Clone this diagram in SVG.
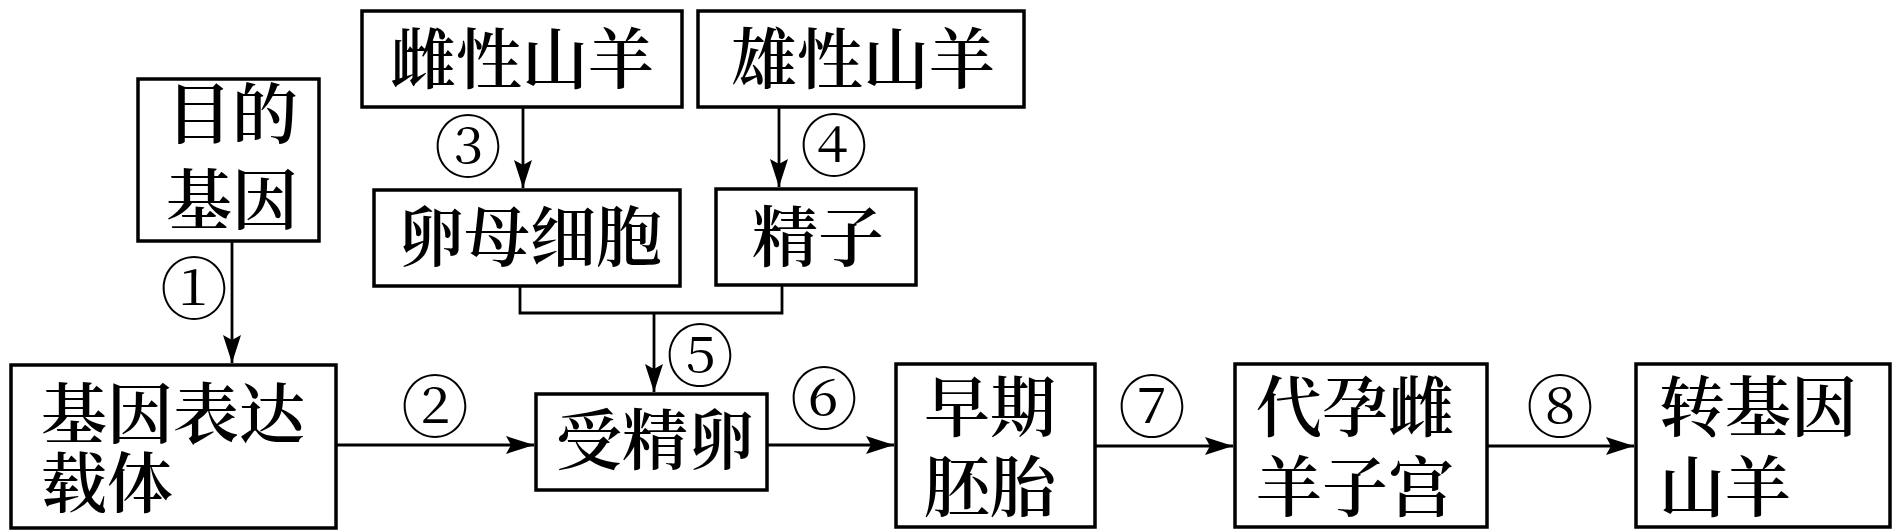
<svg xmlns="http://www.w3.org/2000/svg" width="1895" height="532" viewBox="0 0 1895 532">
<style>
.box{fill:#fff;stroke:#000;stroke-width:3.5}
.t{font-family:"Noto Serif CJK SC","Noto Sans CJK SC",serif;font-size:66px;font-weight:600;fill:#000}
.n{font-family:"Noto Serif CJK SC","Noto Sans CJK SC",serif;font-size:68px;fill:#000;text-anchor:middle}
.ln{fill:none;stroke:#000;stroke-width:2.8}
</style>
<defs>
<marker id="ah" viewBox="0 0 28 18" refX="28" refY="9" markerWidth="28" markerHeight="18" markerUnits="userSpaceOnUse" orient="auto">
<path d="M0,0 L28,9 L0,18 L5,9 z" fill="#000"/>
</marker>
</defs>
<rect width="1895" height="532" fill="#fff"/>
<g id="connectors">
<line class="ln" x1="232" y1="241" x2="232" y2="363" marker-end="url(#ah)"/>
<line class="ln" x1="336" y1="445" x2="534" y2="445" marker-end="url(#ah)"/>
<line class="ln" x1="523" y1="107" x2="523" y2="188" marker-end="url(#ah)"/>
<line class="ln" x1="779" y1="107" x2="779" y2="187" marker-end="url(#ah)"/>
<polyline class="ln" points="520,286 520,313 782,313 782,285"/>
<line class="ln" x1="654" y1="313" x2="654" y2="392" marker-end="url(#ah)"/>
<line class="ln" x1="767" y1="445" x2="894" y2="445" marker-end="url(#ah)"/>
<line class="ln" x1="1095" y1="446" x2="1233" y2="446" marker-end="url(#ah)"/>
<line class="ln" x1="1487" y1="446" x2="1634" y2="446" marker-end="url(#ah)"/>
<text class="n" x="194" y="314">①</text>
<text class="n" x="435" y="432">②</text>
<text class="n" x="468" y="172">③</text>
<text class="n" x="834" y="171">④</text>
<text class="n" x="700" y="381">⑤</text>
<text class="n" x="824" y="424">⑥</text>
<text class="n" x="1152" y="432">⑦</text>
<text class="n" x="1560" y="432">⑧</text>
</g>
<g id="n1"><rect class="box" x="138" y="79" width="181" height="162"/><text class="t" x="166" y="138">目的<tspan x="166" y="224">基因</tspan></text></g>
<g id="n2"><rect class="box" x="11" y="365" width="325" height="163"/><text class="t" x="41" y="438">基因表达<tspan x="41" y="507">载体</tspan></text></g>
<g id="n3"><rect class="box" x="362" y="11" width="320" height="96"/><text class="t" x="390" y="83">雌性山羊</text></g>
<g id="n4"><rect class="box" x="698" y="11" width="326" height="96"/><text class="t" x="731" y="83">雄性山羊</text></g>
<g id="n5"><rect class="box" x="374" y="190" width="306" height="96"/><text class="t" x="398" y="261">卵母细胞</text></g>
<g id="n6"><rect class="box" x="716" y="189" width="200" height="96"/><text class="t" x="752" y="261">精子</text></g>
<g id="n7"><rect class="box" x="536" y="394" width="231" height="96"/><text class="t" x="556" y="464">受精卵</text></g>
<g id="n8"><rect class="box" x="896" y="364" width="199" height="163"/><text class="t" x="924" y="431">早期<tspan x="924" y="511">胚胎</tspan></text></g>
<g id="n9"><rect class="box" x="1235" y="364" width="252" height="163"/><text class="t" x="1256" y="431">代孕雌<tspan x="1256" y="511">羊子宫</tspan></text></g>
<g id="n10"><rect class="box" x="1636" y="364" width="254" height="163"/><text class="t" x="1659" y="431">转基因<tspan x="1659" y="511">山羊</tspan></text></g>
</svg>
